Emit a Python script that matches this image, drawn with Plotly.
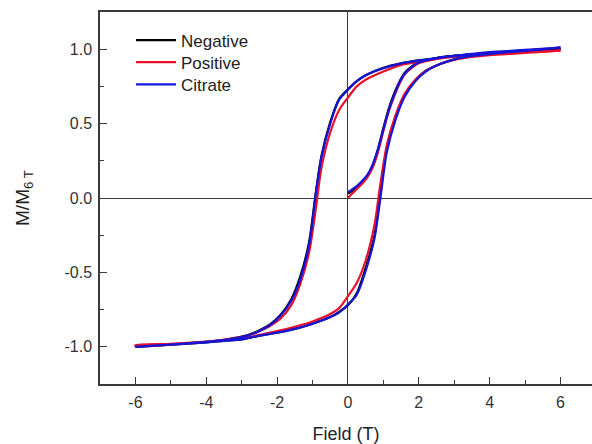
import plotly.graph_objects as go

# ---------------- data ----------------
virgin_field = [0, 0.1, 0.25, 0.4, 0.55, 0.7, 0.85, 1.0, 1.15, 1.3, 1.45, 1.6, 1.8, 2.0, 2.3, 2.6, 3, 4, 5, 6]
desc_field = [6, 5, 4, 3.5, 3, 2.5, 2, 1.5, 1, 0.5, 0.25, 0, -0.25, -0.5, -0.75, -0.9, -1.1, -1.35, -1.6, -1.9, -2.2, -2.6, -3, -3.5, -4, -5, -6]
asc_field = [-6, -5, -4, -3.5, -3, -2.5, -2, -1.5, -1, -0.5, -0.25, 0, 0.25, 0.5, 0.75, 0.9, 1.1, 1.35, 1.6, 1.9, 2.2, 2.6, 3, 3.5, 4, 5, 6]

neg_virgin = [0.03, 0.045, 0.075, 0.11, 0.15, 0.22, 0.33, 0.47, 0.60, 0.70, 0.78, 0.84, 0.885, 0.91, 0.93, 0.945, 0.955, 0.975, 0.99, 1.0]
neg_desc = [1.0, 0.99, 0.975, 0.965, 0.955, 0.94, 0.925, 0.905, 0.875, 0.825, 0.785, 0.73, 0.665, 0.51, 0.28, 0.05, -0.30, -0.53, -0.68, -0.785, -0.85, -0.90, -0.932, -0.953, -0.967, -0.985, -1.0]
neg_asc = [-1.0, -0.985, -0.97, -0.96, -0.95, -0.925, -0.905, -0.88, -0.845, -0.80, -0.765, -0.72, -0.64, -0.47, -0.25, 0.0, 0.34, 0.55, 0.69, 0.79, 0.855, 0.90, 0.932, 0.953, 0.967, 0.985, 1.0]

pos_virgin = [0.0, 0.025, 0.06, 0.095, 0.14, 0.205, 0.31, 0.45, 0.58, 0.68, 0.765, 0.83, 0.875, 0.905, 0.925, 0.94, 0.95, 0.97, 0.98, 0.99]
pos_desc = [0.99, 0.98, 0.97, 0.96, 0.95, 0.935, 0.915, 0.895, 0.85, 0.795, 0.75, 0.675, 0.59, 0.44, 0.20, -0.06, -0.37, -0.58, -0.72, -0.81, -0.86, -0.905, -0.935, -0.953, -0.965, -0.985, -0.995]
pos_asc = [-0.99, -0.98, -0.965, -0.955, -0.945, -0.92, -0.895, -0.865, -0.83, -0.78, -0.74, -0.66, -0.57, -0.42, -0.18, 0.07, 0.36, 0.56, 0.70, 0.795, 0.855, 0.90, 0.928, 0.948, 0.96, 0.975, 0.99]

cit_virgin = [0.04, 0.055, 0.08, 0.115, 0.155, 0.225, 0.33, 0.46, 0.59, 0.69, 0.775, 0.835, 0.88, 0.91, 0.93, 0.945, 0.955, 0.975, 0.99, 1.01]
cit_desc = [1.01, 0.995, 0.98, 0.968, 0.955, 0.94, 0.925, 0.905, 0.872, 0.825, 0.785, 0.727, 0.66, 0.50, 0.27, 0.04, -0.32, -0.55, -0.69, -0.79, -0.855, -0.905, -0.935, -0.955, -0.967, -0.985, -1.0]
cit_asc = [-1.0, -0.985, -0.97, -0.96, -0.95, -0.925, -0.905, -0.88, -0.845, -0.80, -0.77, -0.716, -0.65, -0.49, -0.27, -0.03, 0.31, 0.53, 0.68, 0.785, 0.85, 0.90, 0.932, 0.955, 0.968, 0.99, 1.01]

series_names = ["Negative", "Positive", "Citrate"]
series_colors = ["#000000", "#e8102a", "#1515d8"]
series_data = [
    (neg_virgin, neg_desc, neg_asc),
    (pos_virgin, pos_desc, pos_asc),
    (cit_virgin, cit_desc, cit_asc),
]

x_ticks = [-6, -4, -2, 0, 2, 4, 6]
y_ticks = [-1.0, -0.5, 0.0, 0.5, 1.0]

legend_ids = ["legend", "legend2", "legend3"]
legend_rows_y = [0.923, 0.864, 0.804]

fig = go.Figure()
for name, color, (v, d, a), lid in zip(series_names, series_colors, series_data, legend_ids):
    xs = virgin_field + [None] + desc_field + asc_field
    ys = v + [None] + d + a
    fig.add_trace(go.Scatter(
        x=xs, y=ys, mode="lines", name=name, legend=lid,
        line=dict(color=color, width=2.2, shape="spline", smoothing=0.8),
        connectgaps=False,
    ))

axis_color = "#3a3a3a"
font_fam = "Liberation Sans, Arial, sans-serif"

legend_style = dict(
    x=0.063, xanchor="left", yanchor="middle",
    bgcolor="rgba(0,0,0,0)", font=dict(size=17, color="#222222"),
    itemwidth=40,
)

fig.update_layout(
    width=592, height=444,
    margin=dict(l=100, r=0, t=12, b=60),
    paper_bgcolor="white", plot_bgcolor="white",
    font=dict(family=font_fam, color="#333333"),
    showlegend=True,
    legend=dict(y=legend_rows_y[0], **legend_style),
    legend2=dict(y=legend_rows_y[1], **legend_style),
    legend3=dict(y=legend_rows_y[2], **legend_style),
    xaxis=dict(
        range=[-7, 6.89], tickvals=x_ticks, ticktext=[str(t) for t in x_ticks],
        ticks="inside", ticklen=7, tickwidth=1.3, tickcolor=axis_color,
        minor=dict(dtick=1, tick0=-7, ticks="inside", ticklen=4, tickwidth=1.3, tickcolor=axis_color),
        showline=True, linecolor=axis_color, linewidth=1.5, mirror=True,
        showgrid=False, zeroline=True, zerolinecolor=axis_color, zerolinewidth=1.2,
        tickfont=dict(size=16, color="#333333"), automargin=False, ticklabelstandoff=3,
        title=dict(text="Field (T)", font=dict(size=18, color="#222222"), standoff=17),
    ),
    yaxis=dict(
        range=[-1.25, 1.25], tickvals=y_ticks, ticktext=["%.1f" % t for t in y_ticks],
        ticks="inside", ticklen=7, tickwidth=1.3, tickcolor=axis_color,
        minor=dict(dtick=0.25, tick0=0, ticks="inside", ticklen=4, tickwidth=1.3, tickcolor=axis_color),
        showline=True, linecolor=axis_color, linewidth=1.5, mirror=False,
        showgrid=False, zeroline=True, zerolinecolor=axis_color, zerolinewidth=1.2,
        tickfont=dict(size=16, color="#333333"), automargin=False, ticklabelstandoff=3,
        title=dict(text="M/M<sub>6 T</sub>", font=dict(size=19, color="#222222"), standoff=30),
    ),
)

fig.write_html(
    "out.html",
    config={"displayModeBar": False},
    post_script="document.body.style.margin='0';document.body.style.overflow='hidden';",
)
